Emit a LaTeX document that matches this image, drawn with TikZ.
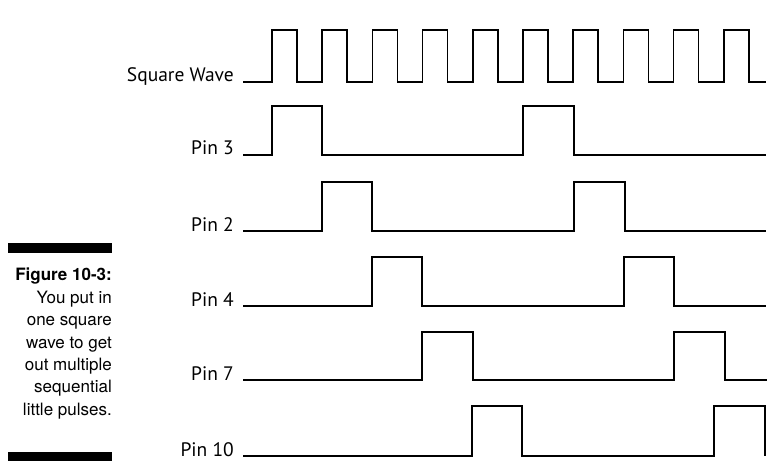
\documentclass[tikz,border=0pt]{standalone}
\usepackage{fontspec}
\setmainfont{PT Sans}
\newfontfamily\capfont{TeX Gyre Heros}
\begin{document}
\begin{tikzpicture}[x=1pt,y=-1pt,
    wave/.style={line width=1.6pt},
    sig/.style={anchor=base east, inner sep=0pt, font=\fontsize{19.5}{22}\selectfont},
    capnode/.style={anchor=north east, inner sep=0pt, align=right, font=\capfont\fontsize{17}{22.4}\selectfont}]
    \useasboundingbox (0,0) rectangle (782,468);
    % signal names
    \node[sig] (SW) at (234,82) {Square Wave};
    \node[sig] (P3) at (234,155) {Pin 3};
    \node[sig] (P2) at (234,231) {Pin 2};
    \node[sig] (P4) at (234,306) {Pin 4};
    \node[sig] (P7) at (234,380) {Pin 7};
    \node[sig] (P10) at (234,456) {Pin 10};
    % clock
    \draw[wave] ([xshift=9pt]SW.base east) \foreach \k in {0,...,9} {
      -- ({272+50.2*\k},82) -- ({272+50.2*\k},30) -- ({297+50.2*\k},30) -- ({297+50.2*\k},82) } -- (766,82);
    % outputs
    \draw[wave] ([xshift=9pt]P3.base east) -- (272,155) |- (322,106) |- (523,155) |- (574,106) |- (766,155);
    \draw[wave] ([xshift=9pt]P2.base east) -- (322,231) |- (372,182) |- (574,231) |- (625,182) |- (766,231);
    \draw[wave] ([xshift=9pt]P4.base east) -- (372,306) |- (422,257) |- (624,306) |- (674,257) |- (766,306);
    \draw[wave] ([xshift=9pt]P7.base east) -- (422,380) |- (473,332) |- (674,380) |- (725,332) |- (767,380);
    \draw[wave] ([xshift=9pt]P10.base east) -- (472,456) |- (522,406) |- (714,456) |- (765,406) -- (765,456);
    % caption
    \fill (8,243) rectangle (112,253);
    \fill (8,452) rectangle (112,461);
    \node[capnode] (cap) at (112,268) {\textbf{Figure 10-3:}\\You put in\\one square\\wave to get\\out multiple\\sequential\\little pulses.};
\end{tikzpicture}
\end{document}
